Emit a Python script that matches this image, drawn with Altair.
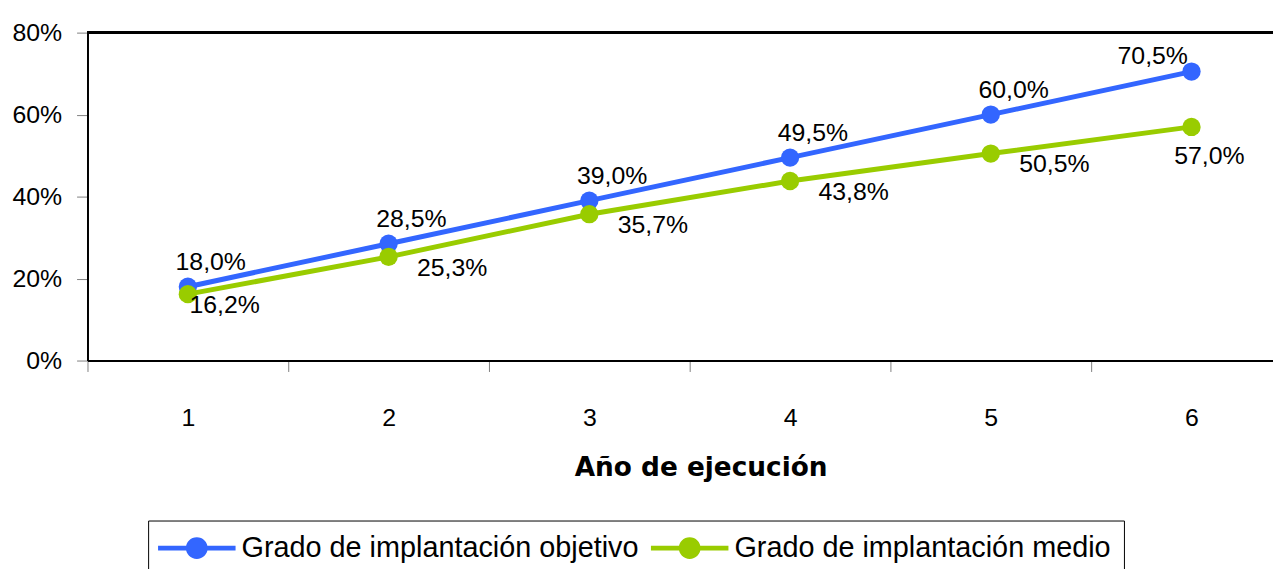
import altair as alt
import pandas as pd

# ---- data ----
anios = [1, 2, 3, 4, 5, 6]
serie_obj = "Grado de implantación objetivo"
serie_med = "Grado de implantación medio"
objetivo = [18.0, 28.5, 39.0, 49.5, 60.0, 70.5]
medio = [16.2, 25.3, 35.7, 43.8, 50.5, 57.0]
y_ticks = [0, 20, 40, 60, 80]
x_ticks = [0.5, 1, 1.5, 2, 2.5, 3, 3.5, 4, 4.5, 5, 5.5, 6]

rows = []
for a, v in zip(anios, objetivo):
    rows.append({"serie": serie_obj, "anio": a, "valor": v, "orden": 0})
for a, v in zip(anios, medio):
    rows.append({"serie": serie_med, "anio": a, "valor": v, "orden": 1})
df = pd.DataFrame(rows)

BLUE = "#3366FF"
GREEN = "#99CC00"
FONT = "Liberation Sans"

sym = ("M-3.545,-0.227L-0.9,-0.227L-0.9,0.227L-3.545,0.227Z "
       "M0.9,-0.227L3.545,-0.227L3.545,0.227L0.9,0.227Z "
       "M1,0A1,1 0 1,1 -1,0A1,1 0 1,1 1,0Z")

legend = alt.Legend(
    title=None,
    orient="none",
    legendX=61,
    legendY=491,
    direction="horizontal",
    symbolType=sym,
    symbolSize=484,
    symbolStrokeWidth=0,
    symbolOpacity=1,
    symbolOffset=21.5,
    labelOffset=30.5,
    labelFont=FONT,
    labelFontSize=29,
    labelColor="black",
    labelLimit=600,
    columnPadding=12,
    padding=13,
    strokeColor="black",
)

color = alt.Color(
    "serie:N",
    scale=alt.Scale(domain=[serie_obj, serie_med], range=[BLUE, GREEN]),
    legend=legend,
)

x = alt.X(
    "anio:Q",
    scale=alt.Scale(domain=[0.5, 6.406], nice=False, zero=False),
    axis=alt.Axis(
        values=x_ticks,
        labelExpr="datum.value % 1 == 0 ? format(datum.value, 'd') : ''",
        labelOverlap=False,
        tickSize=11,
        tickColor="#808080",
        tickOpacity={"condition": {"test": "datum.value % 1 != 0", "value": 1}, "value": 0},
        domainColor="black",
        domainWidth=2,
        grid=False,
        labelFont=FONT,
        labelFontSize=25,
        labelColor="black",
        labelPadding=34,
        title="Año de ejecución",
        titleFont="DejaVu Sans",
        titleFontSize=26.5,
        titleFontWeight="bold",
        titleColor="black",
        titlePadding=25,
        titleX=617,
        titleAlign="center",
    ),
)
y = alt.Y(
    "valor:Q",
    scale=alt.Scale(domain=[0, 80], nice=False, zero=True),
    axis=alt.Axis(
        values=y_ticks,
        labelExpr="datum.value + '%'",
        tickSize=11,
        tickColor="#808080",
        domainColor="black",
        domainWidth=2,
        grid=False,
        labelFont=FONT,
        labelFontSize=25,
        labelColor="black",
        labelPadding=15,
        title=None,
    ),
)

base = alt.Chart(df).encode(x=x, y=y)

lines = base.mark_line(strokeWidth=5).encode(
    color=color,
    detail="serie:N",
    order="anio:Q",
)
points = base.mark_point(filled=True, size=340, opacity=1).encode(
    color=color,
    order="orden:Q",
)

top_line = alt.Chart(df).mark_rule(color="black", strokeWidth=2).encode(y=alt.datum(80))

labels = base.transform_calculate(
    label="replace(format(datum.valor, '.1f'), '.', ',') + '%'"
)


def txt(filt, dx, dy):
    return labels.transform_filter(filt).mark_text(
        font=FONT, fontSize=25, color="black", dx=dx, dy=dy, baseline="middle", align="center"
    ).encode(text="label:N")


t_obj = txt(f"datum.serie == '{serie_obj}' && datum.anio < 6", 23, -25)
t_obj_last = txt(f"datum.serie == '{serie_obj}' && datum.anio == 6", -39, -16)
t_med_first = txt(f"datum.serie == '{serie_med}' && datum.anio == 1", 37, 11)
t_med = txt(f"datum.serie == '{serie_med}' && datum.anio > 1 && datum.anio < 6", 64, 11)
t_med_last = txt(f"datum.serie == '{serie_med}' && datum.anio == 6", 18, 29)

chart = alt.layer(
    top_line, lines, points, t_obj, t_obj_last, t_med_first, t_med, t_med_last
).properties(
    width=1193,
    height=330,
    autosize=alt.AutoSizeParams(type="none"),
    padding={"left": 80, "top": 23, "right": 0, "bottom": 208},
).configure_view(
    stroke=None
)

chart.save("out.html", embed_options={"renderer": "svg", "actions": False})
